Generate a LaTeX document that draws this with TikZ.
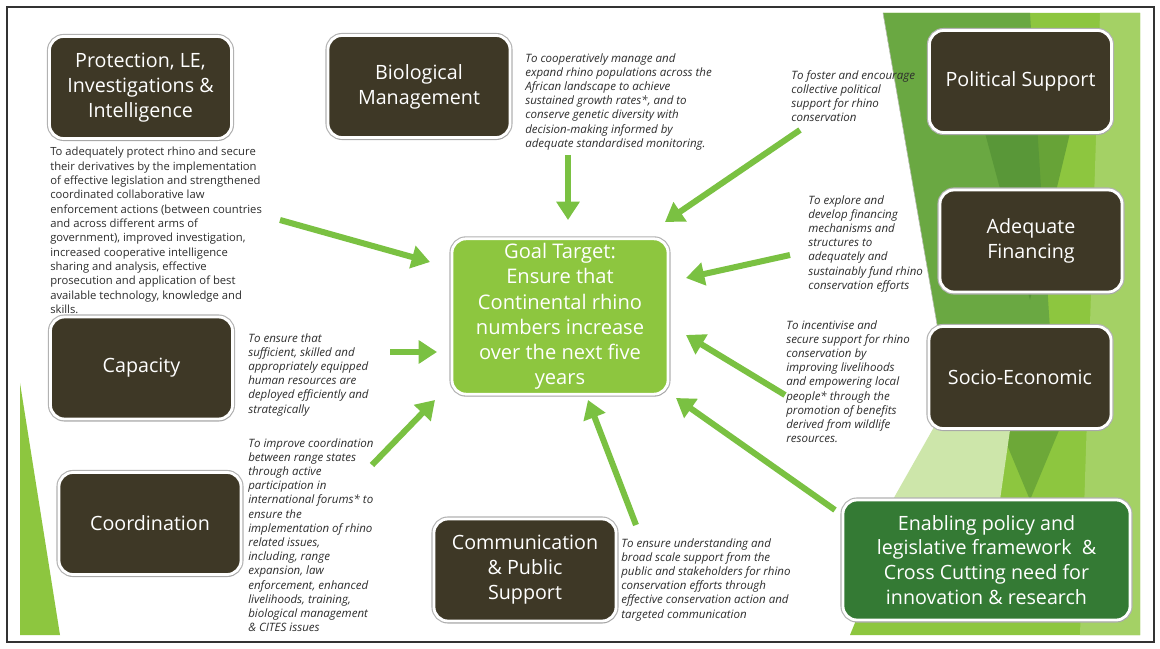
\documentclass[tikz,border=0pt]{standalone}
\usepackage{fontspec}
\setmainfont{Open Sans}
\usetikzlibrary{arrows.meta,shadows}

\definecolor{boxbrown}{RGB}{62,56,38}
\definecolor{goalgreen}{RGB}{141,198,63}
\definecolor{enabgreen}{RGB}{52,122,52}
\definecolor{arrowgreen}{RGB}{122,193,66}
\definecolor{desctext}{RGB}{45,45,45}
\definecolor{facetlime}{RGB}{141,198,63}
\definecolor{facetmid}{RGB}{106,168,66}
\definecolor{facetdark}{RGB}{78,140,50}
\definecolor{facetpale}{RGB}{205,230,170}

\tikzset{
  topic/.style={rounded corners=10pt, fill=boxbrown, draw=white, line width=2pt,
    text=white, align=center, font=\fontsize{14}{17.7}\selectfont,
    minimum width=4.55cm, minimum height=2.55cm,
    preaction={draw=black!30, line width=3.6pt},
    drop shadow={shadow xshift=0.6pt, shadow yshift=-1.5pt, opacity=0.3}},
  aim/.style={inner sep=0pt, anchor=north west, align=left, text=desctext,
    font=\fontsize{8.2}{10.1}\selectfont\itshape},
  feed/.style={-{Triangle[length=13pt,width=16pt]}, line width=4.3pt, arrowgreen},
}

\begin{document}
\begin{tikzpicture}[x=0.025cm, y=-0.025cm]
  \useasboundingbox (0,0) rectangle (1160,649);
  \fill[white] (0,0) rectangle (1160,649);

  % background facets
  \fill[facetlime] (883,13) -- (1140,13) -- (1140,635) -- (850,635) -- (938,420) -- (938,330) -- cycle;
  \fill[facetmid] (883,13) -- (1030,13) -- (1050,330) -- (938,330) -- cycle;
  \fill[facetdark, opacity=0.6] (985,133) -- (1070,133) -- (1030,300) -- cycle;
  \fill[facetdark, opacity=0.5] (1000,428) -- (1060,428) -- (1030,500) -- cycle;
  \fill[facetpale] (938,420) -- (1010,430) -- (1000,500) -- (870,540) -- cycle;
  \fill[facetlime!80!white] (1100,13) -- (1140,13) -- (1140,635) -- (1080,635) -- cycle;
  \draw[black!25, thin] (883,13) -- (938,330) -- (938,420);
  \fill[facetlime] (20,383) -- (60,635) -- (20,635) -- cycle;

  % frame
  \draw[black!80, line width=0.8pt] (7,7) rectangle (1154,642);

  % topic boxes
  \node[topic] (prot) at (140.5,87.5) {Protection, LE,\\ Investigations \&\\ Intelligence};
  \node[topic] (bio) at (419,86.5) {Biological\\ Management};
  \node[topic] (pol) at (1020.5,81.5) {Political Support};
  \node[topic] (fin) at (1031,241) {Adequate\\ Financing};
  \node[topic] (socio) at (1020,377.5) {Socio-Economic};
  \node[topic] (cap) at (141.5,368) {Capacity};
  \node[topic] (coord) at (150,523.5) {Coordination};
  \node[topic] (comm) at (525,570) {Communication\\ \& Public\\ Support};
  \node[topic, fill=enabgreen, minimum width=7.175cm, minimum height=3cm] (enab) at (986.5,560)
    {Enabling policy and\\ legislative framework ~\&\\ Cross Cutting need for\\ innovation \& research};

  % goal
  \node[topic, fill=goalgreen, minimum width=5.4cm, minimum height=3.575cm,
    font=\fontsize{14.3}{17.9}\selectfont] (goal) at (560,316.5)
    {Goal Target:\\ Ensure that\\ Continental rhino\\ numbers increase\\ over the next five\\ years};

  % objectives
  \node[aim, font=\fontsize{8}{10.2}\selectfont] (protAim) at (50,147) {To adequately protect rhino and secure\\
    their derivatives by the implementation\\ of effective legislation and strengthened\\
    coordinated collaborative law\\ enforcement actions (between countries\\
    and across different arms of\\ government), improved investigation,\\
    increased cooperative intelligence\\ sharing and analysis, effective\\
    prosecution and application of best\\ available technology, knowledge and\\ skills.};
  \node[aim] (bioAim) at (525,53) {To cooperatively manage and\\ expand rhino populations across the\\
    African landscape to achieve\\ sustained growth rates*, and to\\ conserve genetic diversity with\\
    decision-making informed by\\ adequate standardised monitoring.};
  \node[aim] (polAim) at (791,70) {To foster and encourage\\ collective political\\ support for rhino\\ conservation};
  \node[aim] (finAim) at (808,195) {To explore and\\ develop financing\\ mechanisms and\\ structures to\\
    adequately and\\ sustainably fund rhino\\ conservation efforts};
  \node[aim] (socioAim) at (786,320) {To incentivise and\\ secure support for rhino\\ conservation by\\
    improving livelihoods\\ and empowering local\\ people* through the\\ promotion of benefits\\
    derived from wildlife\\ resources.};
  \node[aim] (capAim) at (248,333) {To ensure that\\ sufficient, skilled and\\ appropriately equipped\\
    human resources are\\ deployed efficiently and\\ strategically};
  \node[aim] (coordAim) at (248,438) {To improve coordination\\ between range states\\ through active\\
    participation in\\ international forums* to\\ ensure the\\ implementation of rhino\\ related issues,\\
    including, range\\ expansion, law\\ enforcement, enhanced\\ livelihoods, training,\\
    biological management\\ \& CITES issues};
  \node[aim] (commAim) at (621,538) {To ensure understanding and\\ broad scale support from the\\
    public and stakeholders for rhino\\ conservation efforts through\\
    effective conservation action and\\ targeted communication};

  % arrow ends
  \coordinate (protTail) at (280,220);  \coordinate (protHead) at (430,262);
  \coordinate (bioTail) at (568,155);   \coordinate (bioHead) at (568,220);
  \coordinate (polTail) at (800,130);   \coordinate (polHead) at (665,222);
  \coordinate (finTail) at (790,255);   \coordinate (finHead) at (686,278);
  \coordinate (socioTail) at (785,395); \coordinate (socioHead) at (686,335);
  \coordinate (enabTail) at (835,510);  \coordinate (enabHead) at (676,398);
  \coordinate (commTail) at (636,525);  \coordinate (commHead) at (588,400);
  \coordinate (coordTail) at (372,465); \coordinate (coordHead) at (435,400);
  \coordinate (capTail) at (390,352);   \coordinate (capHead) at (437,352);

  % arrows into the goal
  \foreach \n in {prot,bio,pol,fin,socio,enab,comm,coord,cap}
    \draw[feed] (\n Tail) -- (\n Head);
\end{tikzpicture}
\end{document}
